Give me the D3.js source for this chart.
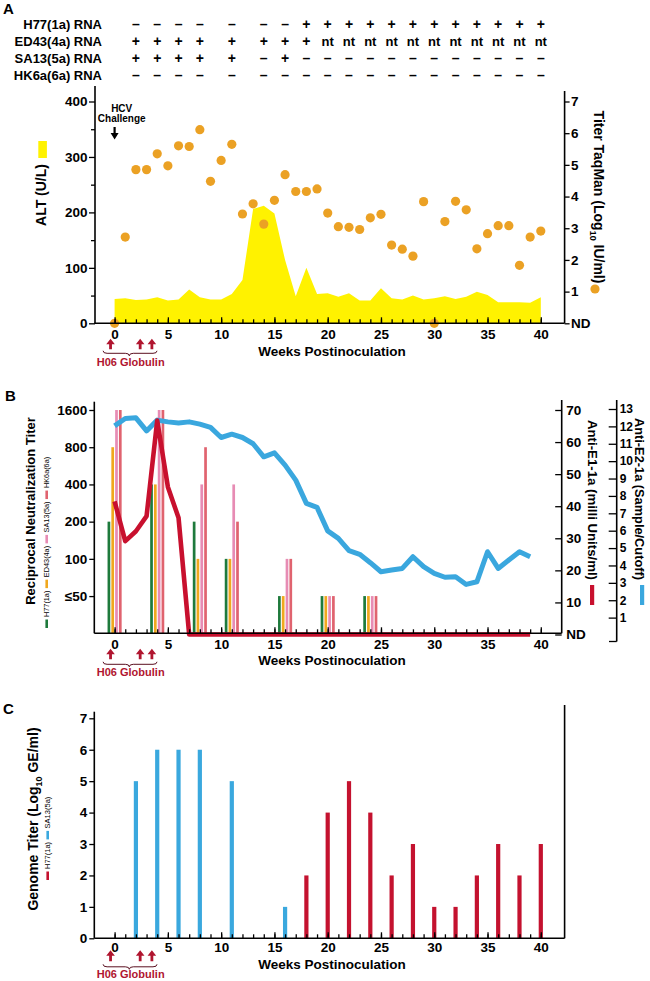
<!DOCTYPE html>
<html><head><meta charset="utf-8">
<script src="https://cdn.jsdelivr.net/npm/d3@7"></script>
<style>
body{margin:0;background:#fff}
svg{display:block}
</style>
</head><body><div id="chart"></div>
<script>
// ================= DATA =================
const weeks = d3.range(0, 41);
// Panel A – ALT (U/L), weekly
const altUL = [44,45,42,43,47,41,43,61,47,43,43,53,78,206,212,198,114,49,100,53,54,48,54,41,41,63,45,43,50,43,45,49,44,48,57,51,38,38,38,37,47];
// Panel A – HCV RNA titer TaqMan (log10 IU/ml), 0 = ND
const titerLog = [0,2.72,4.85,4.85,5.35,4.97,5.60,5.58,6.11,4.48,5.14,5.65,3.45,3.77,3.13,3.88,4.69,4.16,4.16,4.24,3.48,3.05,3.03,2.96,3.33,3.44,2.47,2.34,2.12,3.84,0,3.21,3.85,3.58,2.35,2.83,3.08,3.08,1.83,2.72,2.91];
// Top RNA table
const rnaCols = [2,4,6,8,11,14,16,18,20,22,24,26,28,30,32,34,36,38,40];
const rnaRowLabels = ["H77(1a) RNA","ED43(4a) RNA","SA13(5a) RNA","HK6a(6a) RNA"];
const h77Rna  = ["–","–","–","–","–","–","–","+","+","+","+","+","+","+","+","+","+","+","+"];
const ed43Rna = ["+","+","+","+","+","+","+","+","nt","nt","nt","nt","nt","nt","nt","nt","nt","nt","nt"];
const sa13Rna = ["+","+","+","+","+","–","+","–","–","–","–","–","–","–","–","–","–","–","–"];
const hk6aRna = ["–","–","–","–","–","–","–","–","–","–","–","–","–","–","–","–","–","–","–"];
// Panel B – reciprocal neutralization titers
const neutWeeks = [0,4,8,11,16,20,24];
const neutStrains = ["H77(1a)","ED43(4a)","SA13(5a)","HK6a(6a)"];
const neutH77  = [200,400,200,100,50,50,50];
const neutED43 = [800,400,100,100,50,50,50];
const neutSA13 = [1600,1600,400,400,100,50,50];
const neutHK6a = [1600,1600,800,200,100,50,50];
// Panel B – anti-E1 (mU/ml, 0 = ND) and anti-E2 (S/CO)
const abWeeks = d3.range(0, 40);
const antiE1 = [41.5,29.1,32.2,36.9,66.7,46,36.4,0,0,0,0,0,0,0,0,0,0,0,0,0,0,0,0,0,0,0,0,0,0,0,0,0,0,0,0,0,0,0,0,0];
const antiE2 = [12.03,12.45,12.49,11.74,12.36,12.26,12.2,12.26,12.13,11.94,11.36,11.55,11.36,11.0,10.25,10.48,9.77,8.91,7.57,7.34,5.99,5.56,4.85,4.64,4.16,3.64,3.74,3.83,4.5,3.93,3.55,3.32,3.35,2.91,3.06,4.79,3.83,4.31,4.79,4.5];
// Panel C – genome titers (log10 GE/ml)
const genSA13Weeks = [2,4,6,8,11,16];
const genSA13 = [5,6,6,6,5,1];
const genH77Weeks = [18,20,22,24,26,28,30,32,34,36,38,40];
const genH77 = [2,4,5,4,2,3,1,1,2,3,2,3];
// Ticks
const weekMajor = [0,5,10,15,20,25,30,35,40];
const weekMinor = d3.range(0, 41);
const altTicks = [0,100,200,300,400];
const altMinor = [50,150,250,350];
const titerTicks = [0,1,2,3,4,5,6,7];
const neutTicks = [50,100,200,400,800,1600];
const e1Ticks = [0,10,20,30,40,50,60,70];
const e2Ticks = [1,2,3,4,5,6,7,8,9,10,11,12,13];
const genTicks = [0,1,2,3,4,5,6,7];
const h06Weeks = [-0.38, 2.4, 3.5];

// ================= STYLE =================
const FONT = '"Liberation Sans", Arial, Helvetica, sans-serif';
const YELLOW = '#FFF200', ORANGE = '#EBA124', ANN = '#B0152F';
const C_H77 = '#1E7A3C', C_ED43 = '#F0A81E', C_SA13 = '#E78CB4', C_HK6 = '#E0636F';
const C_E1 = '#C8102E', C_E2 = '#3AA7DE';
const C_GSA = '#3AA8DE', C_GH77 = '#C4122F';

const svg = d3.select('#chart').append('svg').attr('width', 650).attr('height', 981)
  .style('font-family', FONT).style('font-weight', 'bold');

const x = d3.scaleLinear().domain([0, 40]).range([114.6, 540.8]);

function styleAxis(g, size) {
  g.select('.domain').remove();
  g.selectAll('.tick line').attr('stroke', '#000').attr('stroke-width', 1.3);
  g.selectAll('.tick text').attr('fill', '#000').style('font-size', size + 'px')
    .style('font-weight', 'bold').style('font-family', FONT);
}
function line(g, x1, y1, x2, y2, w) {
  g.append('line').attr('x1', x1).attr('y1', y1).attr('x2', x2).attr('y2', y2)
    .attr('stroke', '#000').attr('stroke-width', w || 1.6);
}
// o = vertical offsets below the axis: label padding, title baseline, arrow top/bottom, brace top, annotation baseline
function weekAxis(yPos, xEnd, o) {
  const g = svg.append('g');
  line(g, 94.3, yPos, xEnd, yPos);
  g.append('g').attr('transform', `translate(0,${yPos})`)
    .call(d3.axisBottom(x).tickValues(weekMinor).tickSize(-4).tickFormat(''))
    .call(a => styleAxis(a, 13));
  g.append('g').attr('transform', `translate(0,${yPos})`)
    .call(d3.axisBottom(x).tickValues(weekMajor).tickSize(-6).tickPadding(o.pad))
    .call(a => styleAxis(a, 13.5));
  g.append('text').attr('x', 332).attr('y', yPos + o.title).attr('text-anchor', 'middle')
    .style('font-size', '13.5px').text('Weeks Postinoculation');
  h06Weeks.forEach(w => {
    const cx = x(w), t = yPos + o.at, b = yPos + o.ab, hh = 5.5, hw = 4.3, sw = 1.4;
    g.append('path').attr('fill', ANN)
      .attr('d', `M${cx},${t} L${cx + hw},${t + hh} L${cx + sw},${t + hh} L${cx + sw},${b} L${cx - sw},${b} L${cx - sw},${t + hh} L${cx - hw},${t + hh} Z`);
  });
  const xl = x(-1.08), xr = x(3.98), xm = x(1.38), y0 = yPos + o.br;
  g.append('path').attr('fill', 'none').attr('stroke', '#5a1020').attr('stroke-width', 1)
    .attr('d', `M${xl},${y0} Q${xl},${y0 + 2.5} ${xl + 4},${y0 + 2.5} L${xm - 4},${y0 + 2.5} Q${xm},${y0 + 2.5} ${xm},${y0 + 5} Q${xm},${y0 + 2.5} ${xm + 4},${y0 + 2.5} L${xr - 4},${y0 + 2.5} Q${xr},${y0 + 2.5} ${xr},${y0}`);
  g.append('text').attr('x', 130.7).attr('y', yPos + o.ann).attr('text-anchor', 'middle')
    .attr('fill', ANN).style('font-size', '11px').text('H06 Globulin');
}
function vLegend(items, cx, yStart, fs) {
  let cur = yStart;
  items.forEach(it => {
    svg.append('rect').attr('x', cx - 1.3).attr('y', cur - 8.5).attr('width', 2.6).attr('height', 8.5).attr('fill', it.color);
    cur -= 8.5 + 2.5;
    const t = svg.append('text').attr('transform', `translate(${cx + 2.6},${cur}) rotate(-90)`)
      .style('font-size', fs + 'px').style('font-weight', 'normal').attr('fill', '#000').text(it.label);
    cur -= t.node().getComputedTextLength() + 2.5;
  });
}

// ================= PANEL LABELS =================
svg.append('text').attr('x', 3).attr('y', 14).style('font-size', '15px').text('A');
svg.append('text').attr('x', 5).attr('y', 401).style('font-size', '15px').text('B');
svg.append('text').attr('x', 3).attr('y', 714).style('font-size', '15px').text('C');

// ================= TOP TABLE =================
const rowY = d3.scalePoint().domain(rnaRowLabels).range([29, 79.7]);
const rnaRows = [h77Rna, ed43Rna, sa13Rna, hk6aRna];
rnaRowLabels.forEach((lab, r) => {
  svg.append('text').attr('x', 102).attr('y', rowY(lab)).attr('text-anchor', 'end')
    .style('font-size', '13px').text(lab);
  svg.selectAll(null).data(rnaRows[r]).join('text')
    .attr('x', (d, i) => x(rnaCols[i])).attr('y', rowY(lab)).attr('text-anchor', 'middle')
    .style('font-size', d => d === 'nt' ? '13px' : '14px').text(d => d);
});

// ================= PANEL A =================
const yAlt = d3.scaleLinear().domain([0, 400]).range([323.3, 101.5]);
const yTiter = d3.scaleLinear().domain([0, 7]).range([323.3, 101.5]);
const gA = svg.append('g');
gA.append('path').datum(altUL).attr('fill', YELLOW)
  .attr('d', d3.area().x((d, i) => x(weeks[i])).y0(yAlt(0)).y1(d => yAlt(d)));
line(gA, 95, 86, 95, 323.3);
line(gA, 564.6, 91, 564.6, 323.3);
gA.append('g').attr('transform', 'translate(95,0)')
  .call(d3.axisLeft(yAlt).tickValues(altTicks).tickSize(6).tickPadding(1.5)).call(a => styleAxis(a, 13.5));
gA.append('g').attr('transform', 'translate(95,0)')
  .call(d3.axisLeft(yAlt).tickValues(altMinor).tickSize(4).tickFormat('')).call(a => styleAxis(a, 13));
gA.append('g').attr('transform', 'translate(564.6,0)')
  .call(d3.axisRight(yTiter).tickValues(titerTicks).tickSize(5).tickPadding(1.5).tickFormat(d => d === 0 ? 'ND' : d))
  .call(a => styleAxis(a, 13.5));
weekAxis(323.3, 564.6, { pad: 6.5, title: 32.5, at: 15.5, ab: 26, br: 27.5, ann: 42.3 });
gA.selectAll('circle.titer').data(titerLog).join('circle').attr('class', 'titer')
  .attr('cx', (d, i) => x(weeks[i])).attr('cy', d => yTiter(d)).attr('r', 4.6).attr('fill', ORANGE);
// HCV challenge
gA.append('text').attr('x', 121.7).attr('y', 112).attr('text-anchor', 'middle').style('font-size', '10px').text('HCV');
gA.append('text').attr('x', 121.7).attr('y', 122).attr('text-anchor', 'middle').style('font-size', '10px').text('Challenge');
{
  const cx = x(0);
  gA.append('path').attr('fill', '#000')
    .attr('d', `M${cx - 1.1},127 L${cx + 1.1},127 L${cx + 1.1},133 L${cx + 4},133 L${cx},139.5 L${cx - 4},133 L${cx - 1.1},133 Z`);
}
gA.append('rect').attr('x', 38.3).attr('y', 141).attr('width', 8.6).attr('height', 17).attr('fill', YELLOW);
gA.append('text').attr('transform', 'translate(45.8,195) rotate(-90)').attr('text-anchor', 'middle')
  .style('font-size', '14px').text('ALT (U/L)');
{
  const t = gA.append('text').attr('transform', 'translate(593.5,197) rotate(90)').attr('text-anchor', 'middle')
    .style('font-size', '14px');
  t.append('tspan').text('Titer TaqMan (Log');
  t.append('tspan').attr('dy', 3.5).style('font-size', '9px').text('10');
  t.append('tspan').attr('dy', -3.5).text(' IU/ml)');
}
gA.append('circle').attr('cx', 595).attr('cy', 289).attr('r', 4.6).attr('fill', ORANGE);

// ================= PANEL B =================
const yNeut = d3.scaleLog().base(2).domain([25, 1600]).range([633.3, 410]);
const yE1 = d3.scaleLinear().domain([0, 70]).range([634.5, 410]);
const yE2 = d3.scaleLinear().domain([0, 13]).range([635, 409]);
const band = d3.scaleBand().domain(neutStrains).range([-7.6, 7.6]);
const gB = svg.append('g');
const neutSeries = [
  { s: "H77(1a)", v: neutH77, c: C_H77 },
  { s: "ED43(4a)", v: neutED43, c: C_ED43 },
  { s: "SA13(5a)", v: neutSA13, c: C_SA13 },
  { s: "HK6a(6a)", v: neutHK6a, c: C_HK6 }
];
neutSeries.forEach(ser => {
  gB.selectAll(null).data(ser.v).join('rect')
    .attr('x', (d, i) => x(neutWeeks[i]) + band(ser.s) + band.bandwidth() / 2 - 1.35)
    .attr('width', 2.7)
    .attr('y', d => yNeut(d)).attr('height', d => yNeut(25) - yNeut(d))
    .attr('fill', ser.c);
});
line(gB, 94.3, 401.7, 94.3, 633.3);
line(gB, 561.7, 400, 561.7, 633.3);
line(gB, 616.7, 400, 616.7, 641.5);
line(gB, 609, 641.5, 616.7, 641.5, 1.3);
gB.append('g').attr('transform', 'translate(94.3,0)')
  .call(d3.axisLeft(yNeut).tickValues(neutTicks).tickSize(5).tickPadding(2).tickFormat(d => d === 50 ? '≤50' : d))
  .call(a => styleAxis(a, 13.5));
gB.append('g').attr('transform', 'translate(561.7,0)')
  .call(d3.axisRight(yE1).tickValues(e1Ticks).tickSizeInner(-6.5).tickSizeOuter(0).tickPadding(4.5).tickFormat(d => d === 0 ? 'ND' : d))
  .call(a => styleAxis(a, 13.5));
gB.append('g').attr('transform', 'translate(616.7,0)')
  .call(d3.axisRight(yE2).tickValues(e2Ticks).tickSizeInner(-8).tickSizeOuter(0).tickPadding(3))
  .call(a => styleAxis(a, 12));
weekAxis(633.3, 561.7, { pad: 6.5, title: 32, at: 15.5, ab: 26, br: 28.5, ann: 42.3 });
gB.append('path').datum(antiE2).attr('fill', 'none').attr('stroke', C_E2).attr('stroke-width', 5)
  .attr('stroke-linejoin', 'round')
  .attr('d', d3.line().x((d, i) => x(abWeeks[i])).y(d => yE2(d)));
gB.append('path').datum(antiE1).attr('fill', 'none').attr('stroke', C_E1).attr('stroke-width', 4.6)
  .attr('stroke-linejoin', 'round')
  .attr('d', d3.line().x((d, i) => x(abWeeks[i])).y(d => yE1(d)));
gB.append('text').attr('transform', 'translate(34.5,511) rotate(-90)').attr('text-anchor', 'middle')
  .style('font-size', '13px').text('Reciprocal Neutralization Titer');
vLegend(neutSeries.map(s => ({ label: s.s, color: s.c })), 46.7, 628, 7.3);
gB.append('text').attr('transform', 'translate(588,500) rotate(90)').attr('text-anchor', 'middle')
  .attr('textLength', 160).attr('lengthAdjust', 'spacingAndGlyphs')
  .style('font-size', '13.5px').text('Anti-E1-1a (milli Units/ml)');
gB.append('rect').attr('x', 590).attr('y', 585).attr('width', 4.2).attr('height', 20).attr('fill', C_E1);
gB.append('text').attr('transform', 'translate(634.5,499) rotate(90)').attr('text-anchor', 'middle')
  .attr('textLength', 162).attr('lengthAdjust', 'spacingAndGlyphs')
  .style('font-size', '13.5px').text('Anti-E2-1a (Sample/Cutoff)');
gB.append('rect').attr('x', 640).attr('y', 585).attr('width', 4.2).attr('height', 20).attr('fill', C_E2);

// ================= PANEL C =================
const yGen = d3.scaleLinear().domain([0, 7]).range([938.3, 718.3]);
const gC = svg.append('g');
gC.selectAll(null).data(genSA13).join('rect')
  .attr('x', (d, i) => x(genSA13Weeks[i]) - 2.1).attr('width', 4.2)
  .attr('y', d => yGen(d)).attr('height', d => yGen(0) - yGen(d)).attr('fill', C_GSA);
gC.selectAll(null).data(genH77).join('rect')
  .attr('x', (d, i) => x(genH77Weeks[i]) - 2.1).attr('width', 4.2)
  .attr('y', d => yGen(d)).attr('height', d => yGen(0) - yGen(d)).attr('fill', C_GH77);
line(gC, 94.3, 711.7, 94.3, 938.3);
line(gC, 564.6, 705, 564.6, 938.3);
gC.append('g').attr('transform', 'translate(94.3,0)')
  .call(d3.axisLeft(yGen).tickValues(genTicks).tickSize(5).tickPadding(2).tickFormat(d3.format('d')))
  .call(a => styleAxis(a, 13.5));
weekAxis(938.3, 564.6, { pad: 4.5, title: 31, at: 12, ab: 23, br: 26, ann: 39.5 });
{
  const t = gC.append('text').attr('transform', 'translate(38,819) rotate(-90)').attr('text-anchor', 'middle')
    .style('font-size', '14px');
  t.append('tspan').text('Genome Titer (Log');
  t.append('tspan').attr('dy', 3.5).style('font-size', '9px').text('10');
  t.append('tspan').attr('dy', -3.5).text(' GE/ml)');
}
vLegend([{ label: 'H77(1a)', color: C_GH77 }, { label: 'SA13(5a)', color: C_GSA }], 47.7, 880, 7.5);
</script>
</body></html>
